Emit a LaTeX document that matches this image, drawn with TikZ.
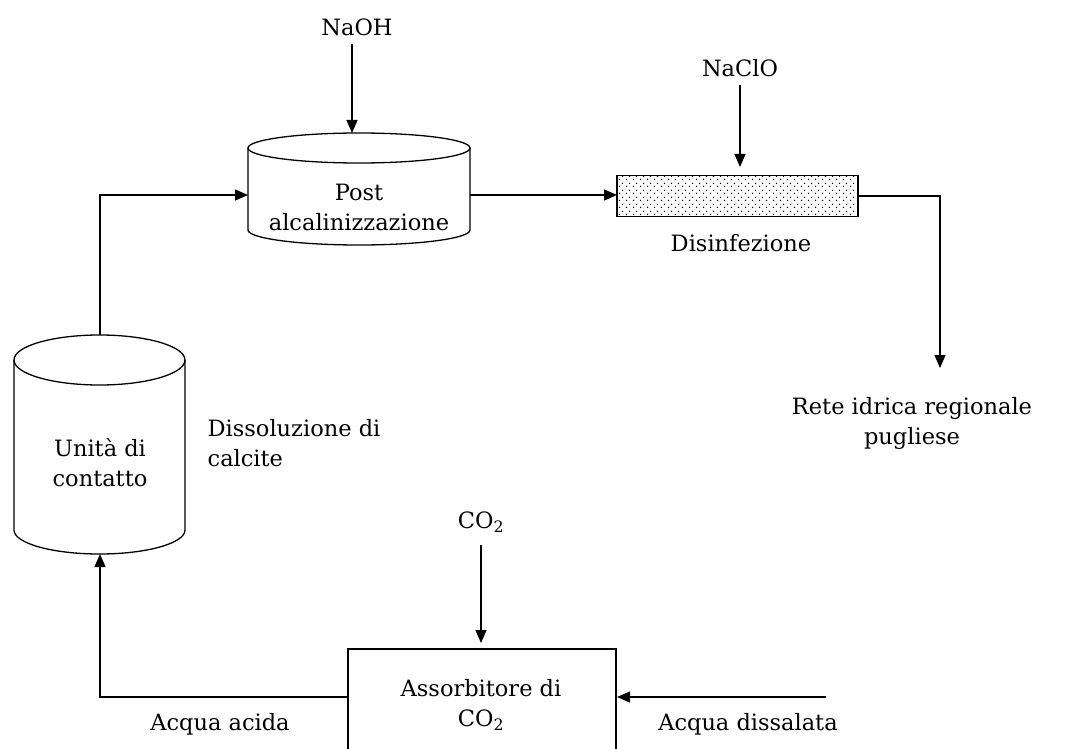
\documentclass[tikz,border=0pt]{standalone}
\usepackage{fontspec}
\setmainfont{DejaVu Serif}
\usetikzlibrary{arrows.meta,patterns.meta}

% staggered stipple for the disinfection unit
\tikzdeclarepattern{
  name=stipple,
  type=uncolored,
  bounding box={(0pt,0pt) and (6.5pt,6.5pt)},
  tile size={(6.5pt,6.5pt)},
  code={
    \fill (1.625pt,1.625pt) circle (0.8pt);
    \fill (4.875pt,4.875pt) circle (0.8pt);
  }
}

\begin{document}
\begin{tikzpicture}[x=1pt,y=-1pt,line width=1.3pt,
  txt/.style={font=\fontsize{22.5}{30}\selectfont,inner sep=0pt,align=center},
  flow/.style={draw,-{Triangle[length=13pt,width=11pt]}}]
\useasboundingbox (0,0) rectangle (1066,749);

% ---- post-alkalinisation tank
\draw (248,148) -- (248,230) arc[start angle=180,end angle=360,x radius=111pt,y radius=15pt] -- (470,148);
\draw (359,148) ellipse[x radius=111pt,y radius=15pt];
\node[txt] (post) at (359,207) {Post\\alcalinizzazione};
\coordinate (postW) at (248,195);
\coordinate (postE) at (470,195);
\coordinate (postTop) at (352,133);

% ---- contact unit (calcite dissolution)
\draw (14,360) -- (14,530) arc[start angle=180,end angle=360,x radius=85.5pt,y radius=24pt] -- (185,360);
\draw (99.5,360) ellipse[x radius=85.5pt,y radius=25pt];
\node[txt] (contact) at (100,463) {Unità di\\contatto};
\coordinate (contactTop) at (100,335);
\coordinate (contactBot) at (100,554);
\node[txt,align=left,anchor=west] (calcite) at (207,443) {Dissoluzione di\\calcite};

% ---- disinfection
\node[draw,pattern=stipple,minimum width=241pt,minimum height=41pt,inner sep=0pt] (dis) at (737.5,196) {};
\node[txt] (dislbl) at (741,243) {Disinfezione};
\coordinate (disIn) at (617,195);
\coordinate (disTop) at (740,167);

% ---- CO2 absorber (runs off the lower edge)
\draw (348,749) |- (616,649) -- (616,749);
\node[txt] (abs) at (481,705) {Assorbitore di\\CO\textsubscript{2}};
\coordinate (absW) at (348,697);
\coordinate (absE) at (617,697);
\coordinate (absTop) at (481,643);

% ---- inlet / outlet labels
\node[txt] (naoh) at (357,27) {NaOH};
\node[txt] (naclo) at (740,68) {NaClO};
\node[txt] (co2) at (481,522) {CO\textsubscript{2}};
\node[txt] (rete) at (912,423) {Rete idrica regionale\\pugliese};
\node[txt] (acida) at (220,724) {Acqua acida};
\node[txt] (dissalata) at (748,724) {Acqua dissalata};
\coordinate (reteTop) at (940,368);
\coordinate (feed) at (826,697);

% ---- flows
\draw[flow] ([yshift=-8pt]naoh.south -| postTop) -- (postTop);
\draw[flow] ([yshift=-8pt]naclo.south -| disTop) -- (disTop);
\draw[flow] ([yshift=-12pt]co2.south -| absTop) -- (absTop);
\draw[flow] (contactTop) |- (postW);
\draw[flow] (postE) -- (disIn);
\draw[flow] (dis.east) -| (reteTop);
\draw[flow] (absW) -| (contactBot);
\draw[flow] (feed) -- (absE);
\end{tikzpicture}
\end{document}
